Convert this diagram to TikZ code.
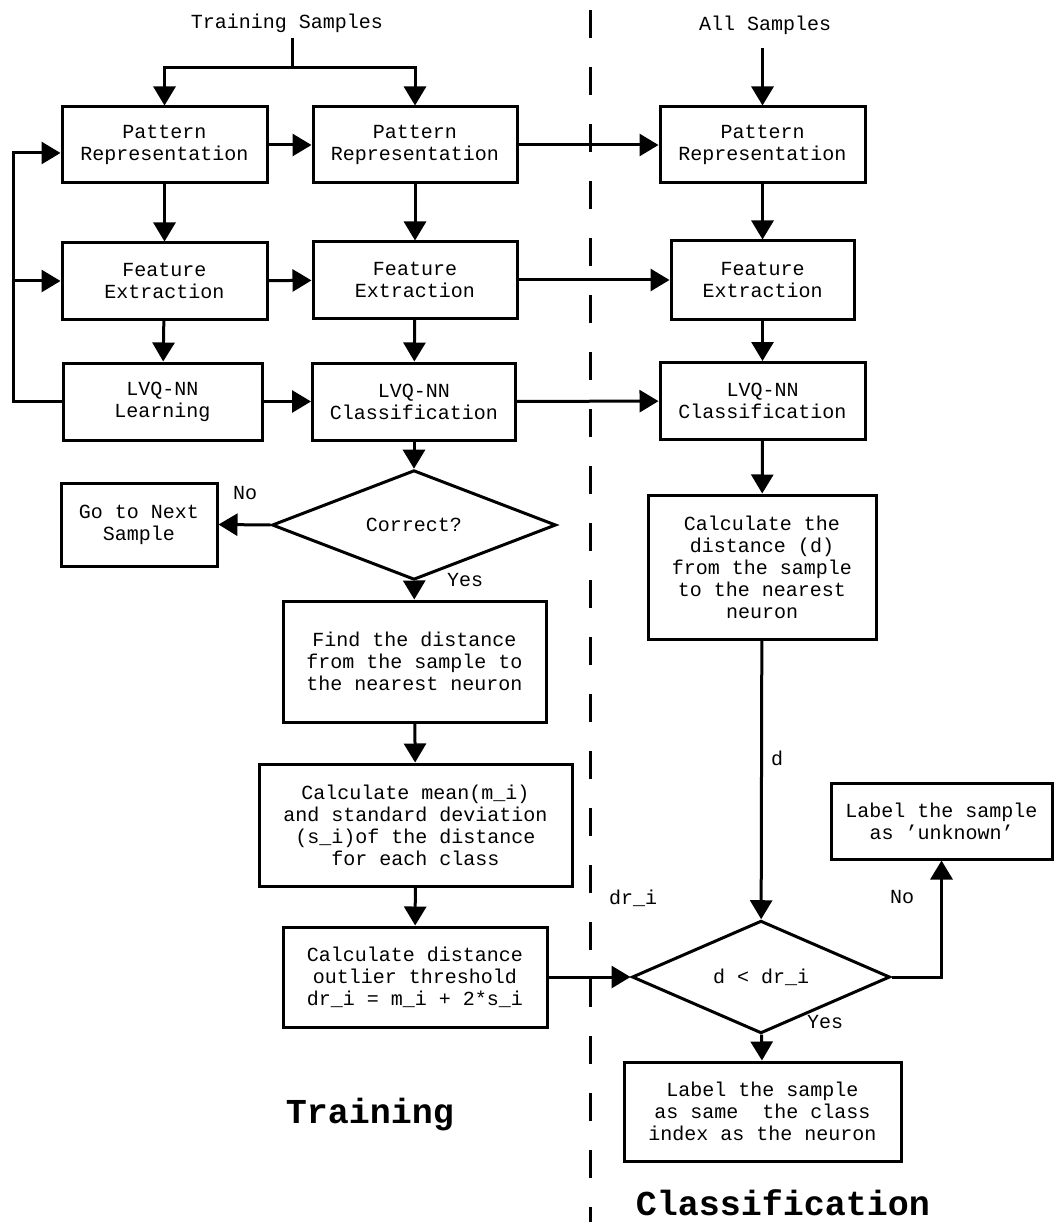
\documentclass[tikz,border=0pt]{standalone}
\usepackage{fontspec}
\setmainfont{Liberation Mono}
\usetikzlibrary{shapes.geometric,arrows.meta}
\tikzstyle{block}=[rectangle, draw, line width=3pt, inner sep=0pt, minimum height=76pt, align=center]
\tikzset{decision/.style={diamond, draw, line width=3pt, inner sep=0pt, align=center}}
\tikzset{flowline/.style={line width=3pt}}
\tikzset{flowarrow/.style={-{Triangle[length=19pt,width=22pt]}, line width=3pt}}
\tikzset{tag/.style={inner sep=0pt}}
\tikzset{heading/.style={font=\fontsize{35}{38}\selectfont\bfseries}}

\begin{document}
\begin{tikzpicture}[x=1pt, y=-1pt, font=\fontsize{20}{22}\selectfont]
  \useasboundingbox (0,0) rectangle (1054,1222);

  %% Training column
  \draw (287,23) node[tag] (TS) {Training Samples};
  \draw (164.5,145) node[block,minimum width=205pt] (P1) {Pattern\\Representation};
  \draw (415,145) node[block,minimum width=204pt] (P2) {Pattern\\Representation};
  \draw (164.5,281) node[block,minimum width=205pt] (F1) {Feature\\Extraction};
  \draw (415,280) node[block,minimum width=204pt] (F2) {Feature\\Extraction};
  \draw (162.5,401.5) node[block,minimum width=199pt,minimum height=77pt] (L1) {LVQ-NN\\Learning};
  \draw (414,401.5) node[block,minimum width=203pt,minimum height=77pt] (L2) {LVQ-NN\\Classification};
  \draw (414,525) node[decision,minimum width=284pt,minimum height=79pt] (C1) {Correct?};
  \draw (139,524.5) node[block,minimum width=156pt,minimum height=83pt] (N1) {Go to Next\\Sample};
  \draw (414.5,661.5) node[block,minimum width=263pt,minimum height=121pt] (D1) {Find the distance\\from the sample to\\the nearest neuron};
  \draw (415.5,825) node[block,minimum width=313pt,minimum height=122pt] (M1) {Calculate mean(m\_i)\\and standard deviation\\(s\_i)of the distance\\for each class};
  \draw (415,977) node[block,minimum width=264pt,minimum height=100pt] (T1) {Calculate distance\\outlier threshold\\dr\_i = m\_i + 2*s\_i};

  %% Classification column
  \draw (765,25) node[tag] (AS) {All Samples};
  \draw (762.5,145) node[block,minimum width=205pt] (P3) {Pattern\\Representation};
  \draw (762.5,280) node[block,minimum width=183pt,minimum height=78pt] (F3) {Feature\\Extraction};
  \draw (762.5,401) node[block,minimum width=205pt,minimum height=77pt] (L3) {LVQ-NN\\Classification};
  \draw (762,567) node[block,minimum width=228pt,minimum height=144pt] (D2) {Calculate the\\distance (d)\\from the sample\\to the nearest\\neuron};
  \draw (761,977) node[decision,minimum width=258pt,minimum height=85pt] (C2) {d < dr\_i};
  \draw (941.5,821) node[block,minimum width=221pt] (U2) {Label the sample\\as ’unknown’};
  \draw (762.5,1111.5) node[block,minimum width=277pt,minimum height=99pt] (S2) {Label the sample\\as same\ \ the class\\index as the neuron};

  %% Training flow
  \coordinate (trainin) at (292,38);
  \coordinate (split) at (292,68);
  \coordinate (back) at (13,401.5);
  \draw[flowline] (trainin) -- (split);
  \draw[flowarrow] (split) -| (P1);
  \draw[flowarrow] (split) -| (P2);
  \draw[flowarrow] (P1) -- (P2);
  \draw[flowarrow] (F1) -- (F2);
  \draw[flowarrow] (L1) -- (L2);
  \draw[flowarrow] (P1) -- (F1);
  \draw[flowarrow] (F1) -- (L1);
  \draw[flowarrow] (P2) -- (F2);
  \draw[flowarrow] (F2) -- (L2);
  \draw[flowarrow] (L1.west) -- (back) |- ([yshift=-8pt]P1.west);
  \draw[flowarrow] (back |- F1.west) -- (F1.west);
  \draw[flowarrow] (L2) -- (C1);
  \draw[flowarrow] (C1.west) -- (N1.east);
  \draw[flowarrow] (C1) -- (D1);
  \draw[flowarrow] (D1) -- (M1);
  \draw[flowarrow] (M1) -- (T1);

  %% Classification flow
  \coordinate (allin) at (762.5,48);
  \draw[flowarrow] (allin) -- (P3);
  \draw[flowarrow] (P2) -- (P3);
  \draw[flowarrow] (F2.east) -- (F2.east -| F3.west);
  \draw[flowarrow] (L2) -- (L3);
  \draw[flowarrow] (P3) -- (F3);
  \draw[flowarrow] (F3) -- (L3);
  \draw[flowarrow] (L3) -- (D2);
  \draw[flowarrow] (D2) -- (C2);
  \draw[flowarrow] (T1.east) -- (C2.west);
  \draw[flowarrow] (C2.east) -| (U2.south);
  \draw[flowarrow] (C2) -- (S2);

  %% Labels
  \draw (245,493) node[tag] (no1) {No};
  \draw (465,580) node[tag] (yes1) {Yes};
  \draw (777,758) node[tag] (dlab) {d};
  \draw (633,898) node[tag] (drlab) {dr\_i};
  \draw (902,897) node[tag] (no2) {No};
  \draw (825,1022) node[tag] (yes2) {Yes};

  %% Divider and titles
  \coordinate (divtop) at (590,10);
  \coordinate (divbot) at (590,1222);
  \draw[line width=3pt, dash pattern=on 28pt off 29pt] (divtop) -- (divbot);
  \draw (370,1115) node[tag,heading] (train) {Training};
  \draw (783,1203) node[tag,heading] (class) {Classification};
\end{tikzpicture}
\end{document}
